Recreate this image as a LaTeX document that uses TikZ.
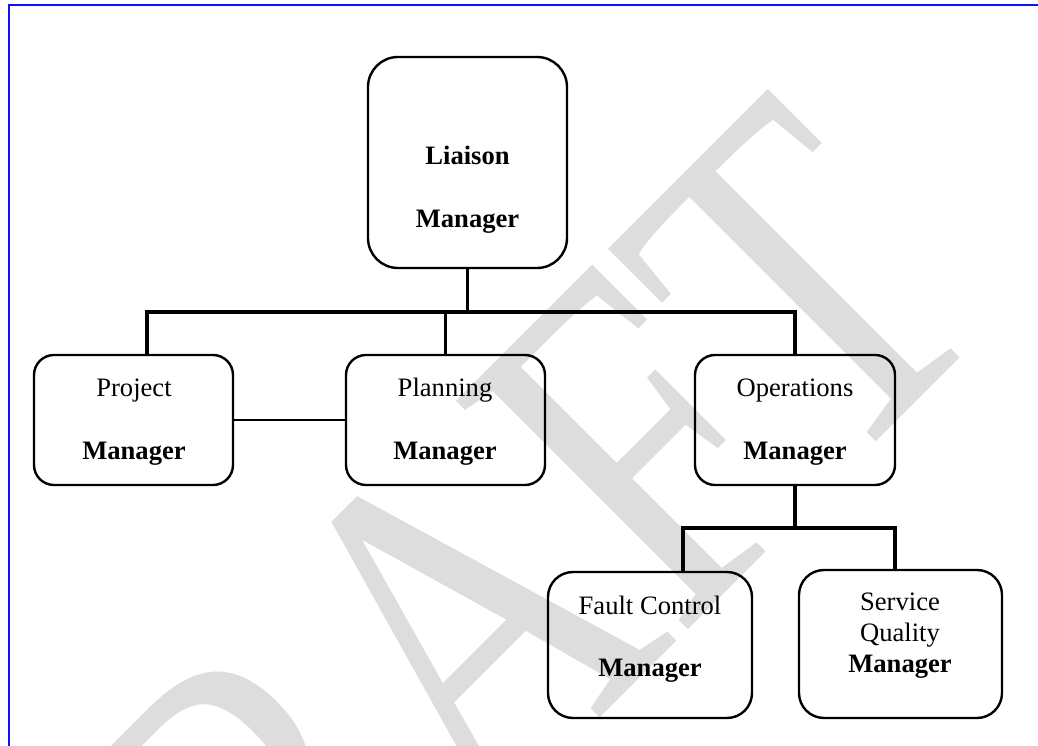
\documentclass[tikz,border=0pt]{standalone}
\usepackage{fontspec}
\setmainfont{Liberation Serif}

\definecolor{wmgray}{RGB}{221,221,221}
\definecolor{frameblue}{RGB}{16,16,255}

\tikzset{
  mgrbox/.style={draw, line width=2.4pt, rounded corners=20pt, inner sep=0pt},
  mgrtext/.style={align=center, anchor=base, inner sep=0pt,
    font=\fontsize{26.6}{31}\selectfont},
  bus/.style={line width=3.6pt},
  link/.style={line width=2.4pt}
}

\begin{document}
\begin{tikzpicture}[x=1pt, y=1pt]
\useasboundingbox (0,0) rectangle (1038,746);
\clip (0,0) rectangle (1038,746);

% watermark
\begin{scope}[shift={(1003,431)}, rotate=45, xscale=0.79]
\node[transform shape, anchor=base east, inner sep=0pt, text=wmgray,
  font=\fontsize{497}{497}\selectfont] (draft) at (0,0) {DRAFT};
\end{scope}

% page frame
\draw[frameblue, line width=2.4pt] (9,0) -- (9,741) -- (1038,741);

% boxes
\node[mgrbox, rounded corners=30pt, minimum width=199, minimum height=211] (liaison) at (467.5,583.5) {};
\node[mgrbox, minimum width=199, minimum height=130] (project) at (133.5,326) {};
\node[mgrbox, minimum width=199, minimum height=130] (planning) at (445.5,326) {};
\node[mgrbox, minimum width=200, minimum height=130] (operations) at (795,326) {};
\node[mgrbox, rounded corners=25pt, minimum width=204, minimum height=146] (fault) at (650,101) {};
\node[mgrbox, rounded corners=25pt, minimum width=203, minimum height=148] (service) at (900.5,102) {};

% labels (anchored on the last line)
\node[mgrtext] (liaisontxt) at (467.5,518) {\textbf{Liaison}\\[32pt]\textbf{Manager}};
\node[mgrtext] (projecttxt) at (134,286) {Project\\[32pt]\textbf{Manager}};
\node[mgrtext] (planningtxt) at (445,286) {Planning\\[32pt]\textbf{Manager}};
\node[mgrtext] (operationstxt) at (795,286) {Operations\\[32pt]\textbf{Manager}};
\node[mgrtext] (faulttxt) at (650,69) {Fault Control\\[31pt]\textbf{Manager}};
\node[mgrtext] (servicetxt) at (900,73) {Service\\Quality\\\textbf{Manager}};

% top level bus
\coordinate (busL) at (147,434);
\coordinate (busR) at (795,434);
\draw[bus] (liaison.south) -- (liaison.south |- busL);
\draw[bus] (busL |- project.north) -- (busL) -- (busR) -- (busR |- operations.north);
\draw[bus] (planning.north |- busL) -- (planning.north);
\draw[link] (project.east) -- (planning.west);

% operations bus
\coordinate (subL) at (683,218);
\coordinate (subR) at (895,218);
\draw[bus] (operations.south) -- (operations.south |- subL);
\draw[bus] (subL |- fault.north) -- (subL) -- (subR) -- (subR |- service.north);

\end{tikzpicture}
\end{document}
